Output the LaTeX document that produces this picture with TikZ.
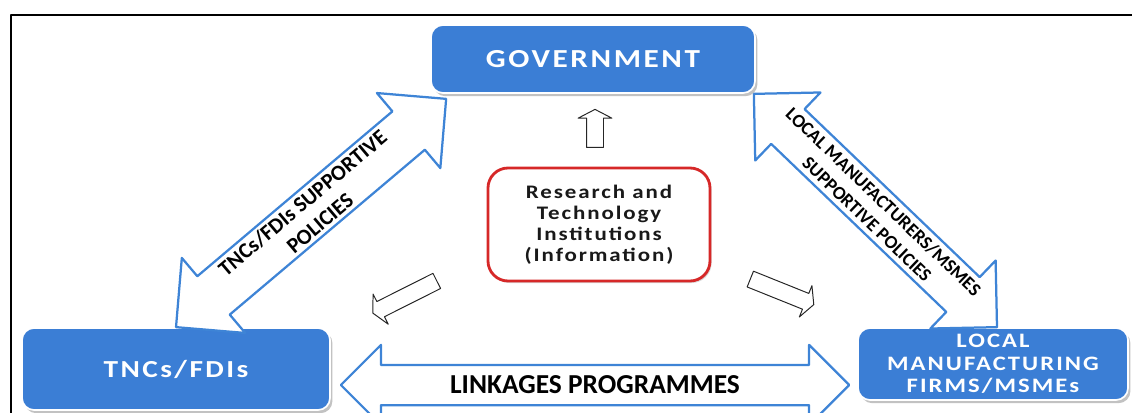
\documentclass[tikz,border=0pt]{standalone}
\usepackage{fontspec}
\setmainfont{Carlito}
\newfontfamily\spacedfont[FakeStretch=1.2,LetterSpace=10]{Carlito}
\usetikzlibrary{calc,shapes.arrows,shadows}
\definecolor{boxblue}{RGB}{59,126,213}
\definecolor{arrowblue}{RGB}{62,132,214}
\definecolor{infored}{RGB}{214,40,40}
\tikzset{
	bluebox/.style={rectangle, rounded corners=0.3cm, fill=boxblue, draw=white, line width=1.2pt, text=white, align=center, inner sep=0pt,
		drop shadow={shadow xshift=0.06cm, shadow yshift=-0.08cm, opacity=0.4, fill=black!60}},
	infobox/.style={rectangle, rounded corners=0.5cm, fill=white, draw=infored, line width=2pt, text=black!90, align=center, inner sep=0pt,
		drop shadow={shadow xshift=0.04cm, shadow yshift=-0.05cm, opacity=0.25, fill=black!60}},
	twinarrow/.style={double arrow, fill=white, draw=arrowblue, line width=1.6pt, inner sep=0pt, double arrow tip angle=90},
	hollowarrow/.style={single arrow, fill=white, draw=black!85, line width=0.7pt, inner sep=0pt, inner ysep=0.2cm,
		single arrow head extend=0.21cm, single arrow tip angle=125},
	slantlabel/.style={align=center, inner sep=0pt}
}

\begin{document}
\begin{tikzpicture}[line cap=round,line join=round,x=1.0cm,y=1.0cm]
	\useasboundingbox (0,0) rectangle (28.3,10.3);
	\clip(0,0) rectangle (28.3,10.3);
	\draw [line width=1.3pt] (0.275,-1.)-- (0.275,9.925)-- (29.,9.925);
	% boxes
	\node[bluebox, minimum width=8.1cm, minimum height=1.7cm, font=\spacedfont\bfseries\fontsize{18.5}{20}\selectfont] (gov) at (14.825,8.825) {GOVERNMENT};
	\node[bluebox, minimum width=7.7cm, minimum height=2.05cm, font=\spacedfont\bfseries\fontsize{17.4}{19}\selectfont] (tnc) at (4.4,1.075) {TNCs/FDIs};
	\node[bluebox, minimum width=6.75cm, minimum height=1.8cm, font=\spacedfont\bfseries\fontsize{14.6}{16}\selectfont] (loc) at (24.825,1.2) {LOCAL\\MANUFACTURING\\FIRMS/MSMEs};
	\node[infobox, minimum width=5.55cm, minimum height=2.825cm, font=\spacedfont\bfseries\fontsize{13.6}{15}\selectfont] (rti) at (14.975,4.6875) {Research and\\Technology\\Institutions\\(Information)};
	% arrow ends
	\coordinate (ttip) at (tnc.north);
	\coordinate (gtipL) at ($(gov.south west)+(0.4,-0.125)$);
	\coordinate (gtipR) at ($(gov.south east)+(-0.05,0)$);
	\coordinate (ltip) at ($(loc.north)+(0.1,0)$);
	\coordinate (lkL) at ($(tnc.east)+(0.25,-0.4)$);
	\coordinate (lkR) at ($(loc.west)+(-0.2,-0.525)$);
	% block arrows
	\path let \p1=($(gtipL)-(ttip)$), \n1={atan2(\y1,\x1)}, \n2={veclen(\x1,\y1)} in
		node[twinarrow, inner ysep=0.6cm, double arrow head extend=0.6cm, rotate=\n1, minimum height=\n2] (polL) at ($(ttip)!0.5!(gtipL)$) {}
		node[slantlabel, rotate=\n1, font=\bfseries\fontsize{15.5}{19}\selectfont] at ($(ttip)!0.5!(gtipL)$) {TNCs/FDIs SUPPORTIVE\\POLICIES};
	\path let \p1=($(ltip)-(gtipR)$), \n1={atan2(\y1,\x1)}, \n2={veclen(\x1,\y1)} in
		node[twinarrow, inner ysep=0.575cm, double arrow head extend=0.575cm, rotate=\n1, minimum height=\n2] (polR) at ($(gtipR)!0.5!(ltip)$) {}
		node[slantlabel, rotate=\n1, font=\bfseries\fontsize{13.3}{17}\selectfont] at ($(gtipR)!0.5!(ltip)$) {LOCAL MANUFACTURERS/MSMES\\SUPPORTIVE POLICIES};
	\path let \p1=($(lkR)-(lkL)$), \n2={veclen(\x1,\y1)} in
		node[twinarrow, inner ysep=0.475cm, double arrow head extend=0.5cm, minimum height=\n2] (link) at ($(lkL)!0.5!(lkR)$) {}
		node[slantlabel, font=\bfseries\fontsize{19.5}{22}\selectfont] at ($(lkL)!0.5!(lkR)$) {LINKAGES PROGRAMMES};
	% hollow arrows
	\node[hollowarrow, rotate=90, minimum height=0.95cm] (upA) at ($(rti.north)+(-0.1,0.9)$) {};
	\node[hollowarrow, rotate=206.7, minimum height=1.79cm] (leftA) at ($(rti.center)+(-4.806,-1.7875)$) {};
	\node[hollowarrow, rotate=-21.9, minimum height=1.71cm] (rightA) at ($(rti.center)+(4.525,-1.6625)$) {};
\end{tikzpicture}
\end{document}
